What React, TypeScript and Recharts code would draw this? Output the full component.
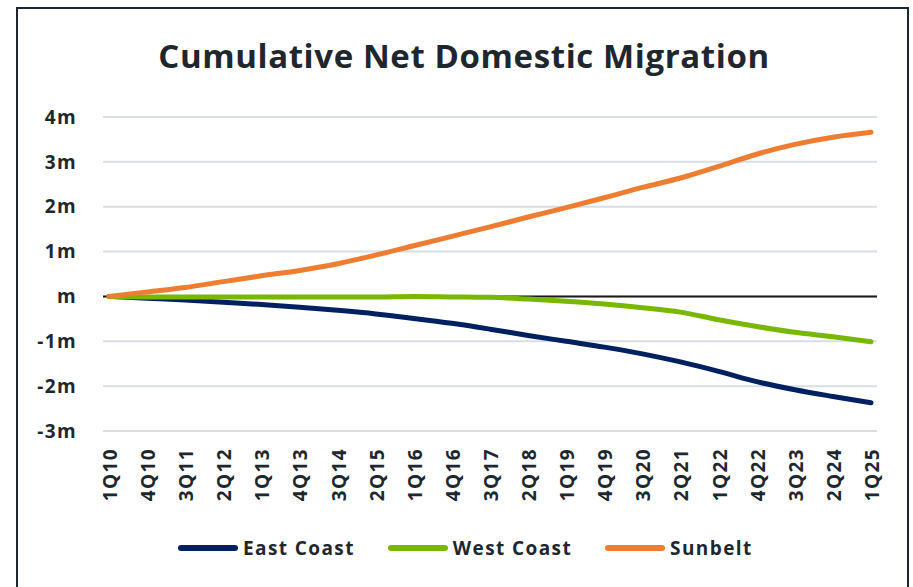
import { CartesianGrid, Line, LineChart, ReferenceLine, XAxis, YAxis } from "recharts";

const quarters = [
	"1Q10", "4Q10", "3Q11", "2Q12", "1Q13", "4Q13", "3Q14",
	"2Q15", "1Q16", "4Q16", "3Q17", "2Q18", "1Q19", "4Q19",
	"3Q20", "2Q21", "1Q22", "4Q22", "3Q23", "2Q24", "1Q25",
];

// cumulative net domestic migration, millions
const eastCoast = [
	0, -0.04, -0.08, -0.13, -0.18, -0.24, -0.31, -0.39, -0.49, -0.6, -0.73,
	-0.87, -1.0, -1.13, -1.28, -1.46, -1.67, -1.9, -2.08, -2.23, -2.37,
];
const westCoast = [
	0, -0.01, -0.01, -0.01, -0.01, -0.01, -0.01, -0.01, 0, -0.01, -0.02,
	-0.06, -0.11, -0.17, -0.25, -0.35, -0.52, -0.67, -0.8, -0.9, -1.01,
];
const sunbelt = [
	0, 0.1, 0.2, 0.33, 0.46, 0.58, 0.73, 0.92, 1.13, 1.34, 1.55,
	1.77, 1.98, 2.2, 2.43, 2.64, 2.9, 3.17, 3.39, 3.55, 3.66,
];

const yTicks = [-3, -2, -1, 0, 1, 2, 3, 4];

const series = [
	{ key: "east", name: "East Coast", color: "#002060" },
	{ key: "west", name: "West Coast", color: "#78B800" },
	{ key: "sun", name: "Sunbelt", color: "#ED7D31" },
];

const chartData = quarters.map((q, i) => ({
	quarter: q,
	east: eastCoast[i],
	west: westCoast[i],
	sun: sunbelt[i],
}));

const FONT = '"Open Sans", sans-serif';
const TEXT = "#1f272e";

function QuarterTick({ x, y, payload }: any) {
	return (
		<text
			transform={`translate(${x},${y}) rotate(-90)`}
			textAnchor="end"
			dy="0.42em"
			fill={TEXT}
			fontFamily={FONT}
			fontWeight={700}
			fontSize={19}
			letterSpacing={1.4}
		>
			{payload.value}
		</text>
	);
}

export default function App() {
	return (
		<div
			style={{
				position: "absolute",
				left: 0,
				top: 0,
				width: 913,
				height: 587,
				overflow: "hidden",
				background: "#fff",
				fontFamily: FONT,
			}}
		>
			<div
				style={{
					position: "absolute",
					left: 16,
					top: 7,
					width: 889,
					height: 620,
					border: "2px solid #1e272e",
				}}
			/>
			<div
				style={{
					position: "absolute",
					left: 0,
					top: 34,
					width: 928,
					textAlign: "center",
					fontSize: 33,
					fontWeight: 700,
					color: TEXT,
					lineHeight: "44px",
					letterSpacing: 0.6,
				}}
			>
				Cumulative Net Domestic Migration
			</div>
			<div style={{ position: "absolute", left: 0, top: 0 }}>
				<LineChart
					width={913}
					height={587}
					data={chartData}
					margin={{ top: 117, right: 36, bottom: 0, left: 0 }}
				>
					<CartesianGrid vertical={false} stroke="#d9dee4" strokeWidth={2} />
					<XAxis
						dataKey="quarter"
						interval={0}
						axisLine={false}
						tickLine={false}
						tickSize={0}
						tickMargin={17}
						padding={{ left: 6, right: 6 }}
						height={156}
						tick={<QuarterTick />}
					/>
					<YAxis
						domain={[-3, 4]}
						ticks={yTicks}
						interval={0}
						width={103}
						axisLine={false}
						tickLine={false}
						tickSize={0}
						tickMargin={26}
						tickFormatter={(v: number) => (v === 0 ? "m" : `${v}m`)}
						tick={{
							fill: TEXT,
							fontFamily: FONT,
							fontWeight: 700,
							fontSize: 19,
							letterSpacing: 1.4,
						}}
					/>
					<ReferenceLine y={0} stroke="#1a1a1a" strokeWidth={2} />
					{series.map((s) => (
						<Line
							key={s.key}
							type="monotone"
							dataKey={s.key}
							name={s.name}
							stroke={s.color}
							strokeWidth={5}
							strokeLinecap="round"
							dot={false}
							isAnimationActive={false}
						/>
					))}
				</LineChart>
			</div>
			<div
				style={{
					position: "absolute",
					left: 178,
					top: 534,
					height: 28,
					display: "flex",
					alignItems: "center",
				}}
			>
				{series.map((s) => (
					<div
						key={s.key}
						style={{ display: "flex", alignItems: "center", marginRight: 33 }}
					>
						<div
							style={{
								width: 60,
								height: 6,
								borderRadius: 3,
								background: s.color,
								marginRight: 5,
							}}
						/>
						<span
							style={{
								fontSize: 19,
								fontWeight: 700,
								color: TEXT,
								letterSpacing: 1.4,
							}}
						>
							{s.name}
						</span>
					</div>
				))}
			</div>
		</div>
	);
}
